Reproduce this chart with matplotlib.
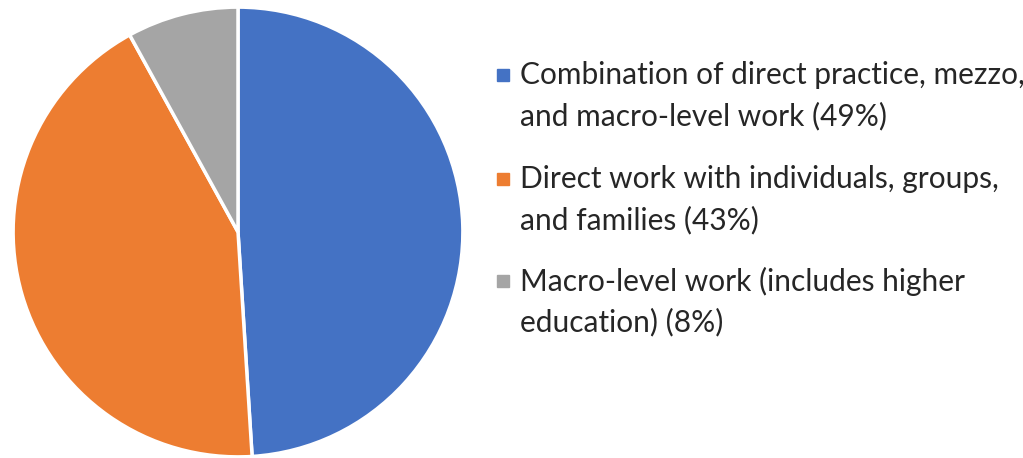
import matplotlib
matplotlib.use("Agg")
import matplotlib.pyplot as plt
from matplotlib.patches import Rectangle

labels = ["Combination of direct practice, mezzo,\nand macro-level work (49%)",
          "Direct work with individuals, groups,\nand families (43%)",
          "Macro-level work (includes higher\neducation) (8%)"]
values = [49, 43, 8]
colors = ["#4472C4", "#ED7D31", "#A5A5A5"]

plt.rcParams['font.family'] = ['Lato', 'DejaVu Sans']
W, H = 1023, 458
fig = plt.figure(figsize=(W/100, H/100), dpi=100)
R = 226
cx, cy = 238, 232
ax = fig.add_axes([(cx-R)/W, (H-cy-R)/H, 2*R/W, 2*R/H])
ax.pie(values, colors=colors, startangle=90, counterclock=False,
       wedgeprops=dict(edgecolor='white', linewidth=2.5))
ax.set_xlim(-1.005, 1.005)
ax.set_ylim(-1.005, 1.005)
ax.set_aspect('equal')

ys = [75, 179, 281]
for lab, col, y in zip(labels, colors, ys):
    fig.patches.append(Rectangle((497/W, (H-y-6)/H), 12/W, 12/H,
                                 transform=fig.transFigure, color=col))
    for i, line in enumerate(lab.split("\n")):
        fig.text(520/W, (H-y-41*i)/H, line, fontsize=21.5, va='center',
                 ha='left', color='#262626')
fig.savefig("out.png", dpi=100)
